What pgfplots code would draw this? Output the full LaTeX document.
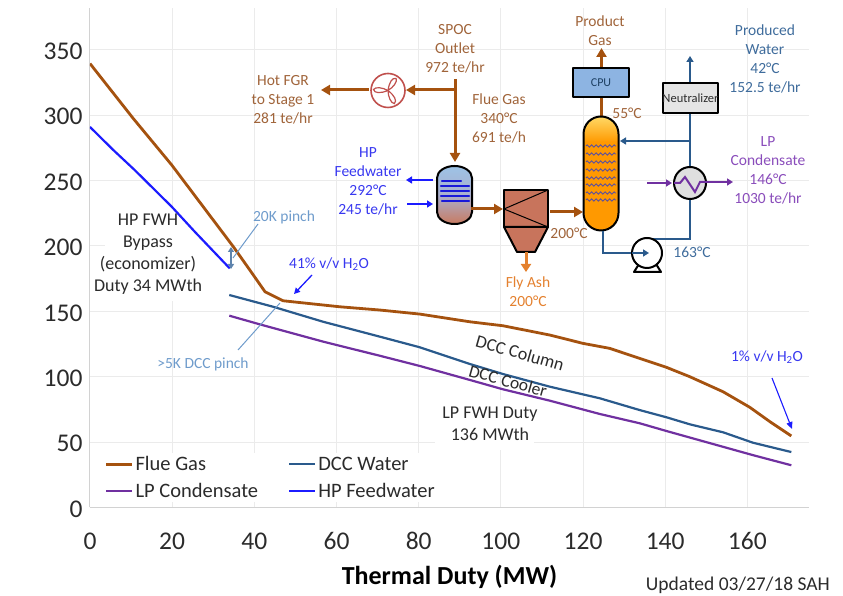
\documentclass[border=0pt]{standalone}
\usepackage{fontspec}
\setmainfont{Carlito}
\usepackage{pgfplots}
\pgfplotsset{compat=1.18}
\usetikzlibrary{arrows.meta,decorations.pathmorphing,shapes.geometric}

\definecolor{flue}{HTML}{A5520F}
\definecolor{fluetxt}{HTML}{A0643A}
\definecolor{dcc}{HTML}{2A5A8C}
\definecolor{dcctxt}{HTML}{3F6C9C}
\definecolor{lpc}{HTML}{7030A0}
\definecolor{lptxt}{HTML}{8A4DBB}
\definecolor{hpw}{HTML}{1C1CFF}
\definecolor{hptxt}{HTML}{3838F0}
\definecolor{pinch}{HTML}{6E9BCB}
\definecolor{ash}{HTML}{E4812F}
\definecolor{ink}{HTML}{2B2B2B}
\definecolor{gridc}{HTML}{EBEBEB}
\definecolor{vtop}{HTML}{9DC3E6}
\definecolor{vmid}{HTML}{AAAFCD}
\definecolor{vbot}{HTML}{C87A60}
\definecolor{bag}{HTML}{C8745C}
\definecolor{cpu}{HTML}{8DB4E2}
\definecolor{colorange}{HTML}{FF9900}
\definecolor{colyellow}{HTML}{FFD966}
\definecolor{packing}{HTML}{5A50A0}
\definecolor{fan}{HTML}{C0504D}

\newcommand{\sm}{\fontsize{15.5}{19}\selectfont}
\newcommand{\bg}{\fontsize{18}{22}\selectfont}

\begin{document}
\begin{tikzpicture}
\useasboundingbox (-90pt,-88.5pt) rectangle (753pt,507.5pt);
\begin{axis}[
  scale only axis,
  width=719pt,
  height=499.5pt,
  xmin=0, xmax=175,
  ymin=0, ymax=382,
  axis lines=left,
  axis line style={-,draw=gray!35,line width=1pt},
  xtick={0,20,...,160},
  ytick={0,50,...,350},
  major tick length=0pt,
  grid=major,
  grid style={gridc,line width=1pt},
  /pgf/number format/assume math mode=true,
  tick label style={font=\fontsize{25.5}{25.5}\selectfont,text=ink},
  xticklabel style={yshift=-21.5pt},
  yticklabel style={xshift=-4pt,yshift=-1.5pt},
  xlabel={\textbf{Thermal Duty (MW)}},
  every axis x label/.style={at={(axis description cs:0.5,0)},anchor=center,yshift=-69.5pt,font=\fontsize{26}{26}\selectfont,text=black},
  legend columns=2,
  legend cell align=left,
  legend style={at={(axis cs:3.3,41.5)},anchor=north west,draw=none,fill=white,inner sep=1pt,
    font=\fontsize{20.5}{20.5}\selectfont,text=ink,
    /tikz/column 2/.style={column sep=28pt},
    row sep=7pt},
  legend image code/.code={\draw[#1] (0pt,0pt) -- (26pt,0pt);},
]
% white boxes behind the text blocks
\fill[white] (axis cs:3.6,158) rectangle (axis cs:29,228);
\fill[white] (axis cs:84,44) rectangle (axis cs:108,82);

\addplot[flue,line width=2.8pt] coordinates {
 (0,339.5) (10.5,297.6) (19.9,261.9) (30,219.8) (34.9,199.4) (38.9,181.6) (42.6,165) (47,158.1)
 (60.8,153.5) (70.6,151) (80.3,147.9) (92.5,142) (100.5,139) (111.9,131.9) (120,125.5)
 (126.5,121.7) (133.8,114) (140.3,107.2) (146,100) (154.1,88.5) (160.6,76.6) (165.5,65.6) (170.7,54.7)};
\addlegendentry{Flue Gas}
\addplot[dcc,line width=2.2pt] coordinates {
 (33.9,162.5) (44.6,153.5) (56.8,142) (70.6,130.6) (80.3,122.5) (92.5,109.7) (100.6,102)
 (111.9,92.4) (124.1,83.5) (133.8,74.5) (140.3,69) (146,63.6) (154.1,57.5) (161.4,49.5) (170.7,42.4)};
\addlegendentry{DCC Water}
\addplot[lpc,line width=2.2pt] coordinates {
 (33.9,146.7) (41.4,140) (56.8,126.8) (70.6,116) (80.3,108.2) (92.5,97.5) (100.5,90.4)
 (111.9,81.7) (124.1,71.5) (133.8,64.4) (140.3,58.5) (151.7,48.5) (161.4,40) (170.7,32.3)};
\addlegendentry{LP Condensate}
\addplot[hpw,line width=2.2pt] coordinates {
 (0,291) (5.7,273.3) (10.9,258) (19.9,230) (25.5,210.9) (34,182.9)};
\addlegendentry{HP Feedwater}
\end{axis}

% process diagram, in pixel coordinates of the image
\begin{scope}[shift={(-90pt,507.5pt)},x=1pt,y=-1pt,
  txt/.style={font=\sm,align=center,inner sep=0pt},
  gas/.style={flue,line width=3pt,-{Triangle[length=9pt,width=10pt]}},
  wat/.style={dcc,line width=2pt,-{Triangle[length=6pt,width=7pt]}},
  eq/.style={draw=black,line width=2pt,line join=round}]

% fan, gas lines
\draw[gas] (455,79) -- (455,162);
\draw[gas] (456,90) -- (406,90);
\draw[gas] (369,90) -- (321,90);
\draw[draw=fan,fill=white,line width=1.6pt] (388,90.5) circle (17);
\foreach \a in {90,210,330}
  \draw[draw=fan,line width=1.2pt,rotate around={\a:(388,90.5)}]
    (388,90.5) .. controls (385,83) and (385,77) .. (389,76) .. controls (392,78) and (391,85) .. (388,90.5);

% economizer vessel (y runs downward here, so the arcs go the other way)
\shade[top color=vtop,bottom color=vbot,middle color=vmid]
  (437,178) arc (180:360:17.5 and 12) -- (472,212) arc (0:180:17.5 and 12) -- cycle;
\draw[eq] (437,178) arc (180:360:17.5 and 12) -- (472,212) arc (0:180:17.5 and 12) -- cycle;
\foreach \yy/\xa/\xb in {181/442/461,186/441/469,191/441/469,196/441/469,201/442/469}
  \draw[hpw!85!black,line width=2.4pt,line cap=round] (\xa,\yy) -- (\xb,\yy);
\draw[hpw,line width=2pt,-{Triangle[length=6pt,width=7pt]}] (433,180) -- (406,180);
\draw[hpw,line width=2pt,-{Triangle[length=6pt,width=7pt]}] (407,204) -- (433,204);
\draw[gas] (471,209) -- (503,209);

% baghouse
\draw[eq,fill=bag] (504,190) rectangle (548,227);
\draw[eq,fill=bag] (504,227) -- (548,227) -- (535,252) -- (517,252) -- cycle;
\draw[black,line width=1pt] (504,209) -- (548,190) (504,209) -- (548,227);
\draw[ash,line width=3pt,-{Triangle[length=8pt,width=10pt]}] (526,252) -- (526,272);
\draw[gas] (550,212) -- (583,212);

% DCC column, CPU
\draw[flue,line width=3pt] (601.5,117) -- (601.5,97);
\draw[gas] (601.5,68) -- (601.5,48);
\draw[eq,fill=cpu] (573,68) rectangle (629,97);
\node[txt,font=\fontsize{12}{12}\selectfont,text=dcc!70!black] at (601,83) {CPU};
\shade[top color=colyellow,bottom color=colorange]
  (583.5,142) -- (583.5,134) arc (180:360:17.5) -- (618.5,142) -- cycle;
\fill[colorange] (583.5,142) -- (583.5,213) arc (180:0:17.5) -- (618.5,142) -- cycle;
\draw[eq] (583.5,134) arc (180:360:17.5) -- (618.5,213) arc (0:180:17.5) -- cycle;
\foreach \yy in {146,154,162,170,178,185,193,200}
  \draw[packing,line width=0.9pt,decorate,decoration={zigzag,amplitude=1.2pt,segment length=4.5pt}] (586,\yy) -- (616,\yy);

% water loop
\draw[dcc,line width=2pt] (603,231) -- (603,253) -- (640,253);
\draw[dcc,line width=2pt] (643,239) -- (690,239) -- (690,199);
\draw[dcc,line width=2pt] (690,168) -- (690,113);
\draw[wat] (690,141) -- (620,141);
\draw[wat] (690,83) -- (690,56);
\draw[eq,fill=gray!20] (663,83) rectangle (718,113);
\node[txt,font=\fontsize{12.5}{12.5}\selectfont,text=ink] at (690.5,98.5) {Neutralizer};

% pump
\draw[eq,fill=white] (634,272) -- (639,264) -- (656,264) -- (661,272) -- cycle;
\draw[eq,fill=white] (647,253) circle (15);
\draw[wat] (632,253) -- (649,253);

% condensate exchanger
\draw[eq,fill=gray!25] (690,183) circle (16);
\draw[lpc,line width=2pt] (674,183) -- (680,183) -- (685,177) -- (695,192) -- (700,182) -- (707,182);
\draw[lpc,line width=2pt,-{Triangle[length=6pt,width=7pt]}] (647,183) -- (672,183);
\draw[lpc,line width=2pt,-{Triangle[length=6pt,width=7pt]}] (706,182) -- (733,182);

% diagram text
\node[txt,text=fluetxt] at (455,49) {SPOC\\Outlet\\972 te/hr};
\node[txt,text=fluetxt] at (283,100) {Hot FGR\\to Stage 1\\281 te/hr};
\node[txt,text=fluetxt] at (499,118) {Flue Gas\\340°C\\691 te/h};
\node[txt,text=hptxt] at (368,181.5) {HP\\Feedwater\\292°C\\245 te/hr};
\node[txt,text=ash] at (528,291.5) {Fly Ash\\200°C};
\node[txt,text=fluetxt] at (569,233) {200°C};
\node[txt,text=fluetxt] at (600,30.5) {Product\\Gas};
\node[txt,text=fluetxt] at (627,113) {55°C};
\node[txt,text=dcctxt] at (765,58.5) {Produced\\Water\\42°C\\152.5 te/hr};
\node[txt,text=lptxt] at (768,170.5) {LP\\Condensate\\146°C\\1030 te/hr};
\node[txt,text=dcctxt] at (692,252) {163°C};

% annotations on the chart
\node[txt,text=pinch] at (284,217) {20K pinch};
\draw[pinch,line width=1pt] (258,224) -- (233,258);
\draw[pinch!85!black,line width=1.5pt,{Triangle[length=5pt,width=6pt]}-{Triangle[length=5pt,width=6pt]}] (231,247) -- (231,269);
\node[txt,text=hptxt] at (329,264) {41\% v/v H\textsubscript{2}O};
\draw[hpw,line width=1.3pt,-{Triangle[length=6pt,width=6pt]}] (312,275) -- (294,294);
\node[txt,text=pinch] at (203,364) {>5K DCC pinch};
\draw[pinch,line width=1pt] (280,303) -- (238,350);
\node[txt,text=hptxt] at (767,357) {1\% v/v H\textsubscript{2}O};
\draw[hpw,line width=1.1pt,-{Triangle[length=7pt,width=6pt]}] (772,378) -- (792,429);
\node[txt,font=\bg,text=ink,align=center] at (148,254.5) {HP FWH\\Bypass\\(economizer)\\Duty 34 MWth};
\node[txt,font=\bg,text=ink,rotate=-16] at (520,353) {DCC Column};
\node[txt,font=\fontsize{17.5}{22}\selectfont,text=ink,rotate=-15.5] at (508,381) {DCC Cooler};
\node[txt,font=\bg,text=ink] at (490,424) {LP FWH Duty\\136 MWth};
\node[txt,anchor=east,font=\fontsize{19.5}{20}\selectfont,text=ink] at (830,585) {Updated 03/27/18 SAH};
\end{scope}
\end{tikzpicture}
\end{document}
